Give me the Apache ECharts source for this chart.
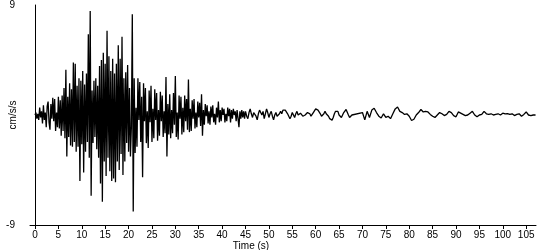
<!DOCTYPE html>
<html>
<head>
<meta charset="utf-8">
<script src="https://cdn.jsdelivr.net/npm/echarts@6/dist/echarts.min.js"></script>
<style>
html,body{margin:0;padding:0;background:#fff;}
#chart{width:550px;height:250px;}
</style>
</head>
<body>
<div id="chart"></div>
<script>
// Strong-motion part: samples every 0.2 s starting at t = 0 s (cm/s/s)
const strongStart = 0;
const strongStep = 0.2;
const accelStrong = [
  0.0, 0.2, -0.3, 0.1, -0.4,
  0.6, -0.2, 0.3, -0.7, 0.8,
  -0.4, 0.2, -1.0, 0.7, 1.1,
  -0.6, -1.2, 0.9, -0.3, 1.4,
  -0.5, 1.3, -1.3, 0.2, -1.0,
  1.5, -1.1, 1.2, -1.7, 1.6,
  -1.3, 2.2, -1.9, 3.7, -3.4,
  1.5, -1.8, 2.6, -2.5, 2.1,
  -2.6, 4.3, -2.2, 4.2, -3.0,
  2.4, -2.6, 3.0, -5.4, 2.8,
  -2.4, 3.6, -4.7, 2.5, -3.0,
  3.4, -2.2, 6.6, -3.5, 8.5,
  -6.6, 2.0, -2.3, 2.8, -1.8,
  3.0, -2.8, 2.4, -3.5, 4.0,
  -5.6, 4.5, -7.1, 5.1, -3.8,
  4.2, -5.0, 6.9, -3.5, 4.8,
  -4.6, 3.6, -5.4, 4.6, -5.2,
  3.4, -5.5, 4.2, -3.8, 5.7,
  -4.5, 4.6, -3.2, 6.4, -4.9,
  3.0, -3.8, 3.5, -2.3, 4.1,
  -3.0, 2.2, -3.4, -1.0, 8.25,
  -7.9, 3.0, -3.1, 0.6, -2.6,
  3.0, -0.4, 2.7, -2.2, 1.5,
  -5.1, 2.6, -0.5, 2.2, -2.3,
  0.3, -2.7, 2.0, -0.6, 2.4,
  -2.2, 0.5, -1.9, 2.1, -0.4,
  1.8, -2.1, 0.4, -1.7, 1.9,
  -0.5, 1.6, -1.8, 0.3, -1.5,
  3.1, -3.4, 0.9, -1.6, 1.7,
  -1.9, 0.4, -1.5, 1.8, -0.8,
  3.2, -1.8, 0.2, -2.0, 1.6,
  -0.3, 1.5, -1.6, 0.6, -1.4,
  1.6, -0.5, 1.3, -1.2, 2.9,
  -1.4, 0.5, -1.3, 1.2, -0.3,
  1.3, -1.1, 0.2, -1.0, 1.1,
  -0.2, 1.0, -0.9, 1.7, -1.7,
  0.4, -0.8, 0.9, -0.1, 0.8,
  -0.7, 0.3, -0.8, 0.7, -0.2,
  0.8, -0.6, 0.1, -0.8, 0.6,
  -0.2, 1.1, -0.6, 0.4, -0.5,
  0.6, 0.0, 0.5, -0.6, 0.1,
  -0.5, 0.6, -0.1, 0.5, -0.6,
  0.4, -0.3, 0.5, 0.0, 0.3,
  -0.5, 0.4, -0.3, -1.0, 0.3,
  -0.3, 0.4, -0.2, 0.3, -0.3
];
// Early coda: samples every 0.25 s starting at t = 45 s (cm/s/s)
const codaStart = 45;
const codaStep = 0.25;
const accelCoda = [
  0.3, -0.1, -0.3, 0.2, 0.5, 0.1, -0.2, 0.2,
  0.3, -0.1, -0.4, 0.1, 0.4, 0.2, 0.0, 0.3,
  -0.3, 0.1, 0.5, 0.2, -0.2, 0.1, 0.3, -0.1,
  -0.4, 0.0, 0.2, -0.1, -0.1, 0.1, 0.3, 0.1,
  0.4, 0.35, 0.4, 0.3, 0.1, -0.1, -0.3, -0.1,
  0.2, 0.0, -0.2, 0.1, 0.3, 0.0, -0.1, 0.15,
  0.25, -0.1, -0.25, 0.0, 0.1, 0.2, 0.3, 0.1,
  -0.1, 0.05, 0.2, 0.35, 0.5, 0.6, 0.4, 0.3,
  0.1, -0.1, -0.2, 0.1, 0.3, 0.1, 0.0, -0.1,
  -0.3, -0.35, -0.42, -0.2, 0.1, 0.3, 0.45, 0.3,
  0.0, -0.1, -0.2, 0.0, 0.2, 0.3, 0.45, 0.3,
  0.0, -0.2, -0.3, 0.0
];
// Late coda: samples every 0.5 s starting at t = 70 s (cm/s/s)
const tailStart = 70;
const tailStep = 0.5;
const accelTail = [
  0.2, -0.4, 0.3, -0.2, 0.4, 0.55, 0.2, -0.1, -0.25, 0.1,
  -0.2, -0.1, -0.3, 0.1, 0.5, 0.65, 0.3, 0.2, 0.05, 0.1,
  -0.1, -0.45, -0.35, 0.0, 0.2, 0.45, 0.25, 0.3, 0.25, 0.05,
  -0.1, -0.2, 0.0, 0.2, 0.1, -0.05, 0.05, 0.3, 0.2, -0.05,
  -0.15, 0.25, 0.15, 0.05, -0.05, 0.0, 0.15, 0.3, 0.0, -0.15,
  0.0, 0.05, 0.3, 0.1, 0.05, 0.1, 0.0, 0.05, 0.1, 0.0,
  0.15, 0.1, 0.12, 0.05, 0.1, -0.05, 0.05, 0.1, -0.1, 0.05,
  0.25, 0.0, -0.05, 0.0, 0.0
];
const xTickValues = [0,5,10,15,20,25,30,35,40,45,50,55,60,65,70,75,80,85,90,95,100,105];
const yTickValues = [-9, 9];
const xTitle = 'Time (s)';
const yTitle = 'cm/s/s';

const seriesData = [];
function addSegment(start, step, values) {
  values.forEach((v, i) => seriesData.push([+(start + i * step).toFixed(3), v]));
}
addSegment(strongStart, strongStep, accelStrong);
addSegment(codaStart, codaStep, accelCoda);
addSegment(tailStart, tailStep, accelTail);

const font = 'Liberation Sans, Arial, sans-serif';
const chart = echarts.init(document.getElementById('chart'), null, {renderer: 'canvas'});
chart.setOption({
  animation: false,
  backgroundColor: '#fff',
  grid: {left: 30, right: 14, top: 5, bottom: 25, containLabel: false, outerBoundsMode: 'none'},
  xAxis: {
    type: 'value', min: -1.07, max: 107.1,
    axisLine: {show: true, onZero: false, lineStyle: {color: '#000', width: 1}},
    axisTick: {show: true, customValues: xTickValues, length: 4, lineStyle: {color: '#000', width: 1}},
    axisLabel: {customValues: xTickValues, color: '#000', fontSize: 10, fontFamily: font, margin: 5},
    splitLine: {show: false},
    name: xTitle, nameLocation: 'middle', nameGap: 16, nameMoveOverlap: false,
    nameTextStyle: {color: '#000', fontSize: 10, fontFamily: font, padding: [0, 64, 0, 0]}
  },
  yAxis: {
    type: 'value', min: -9, max: 9,
    axisLine: {show: true, onZero: true, lineStyle: {color: '#000', width: 1}},
    axisTick: {show: false},
    axisLabel: {customValues: yTickValues, color: '#000', fontSize: 10, fontFamily: font, margin: 15},
    splitLine: {show: false},
    name: yTitle, nameLocation: 'middle', nameGap: 12, nameRotate: 90, nameMoveOverlap: false,
    nameTextStyle: {color: '#000', fontSize: 10, fontFamily: font}
  },
  series: [{
    type: 'line', data: seriesData, symbol: 'none', showSymbol: false,
    lineStyle: {color: '#000', width: 1.3}, silent: true
  }]
});
</script>
</body>
</html>
